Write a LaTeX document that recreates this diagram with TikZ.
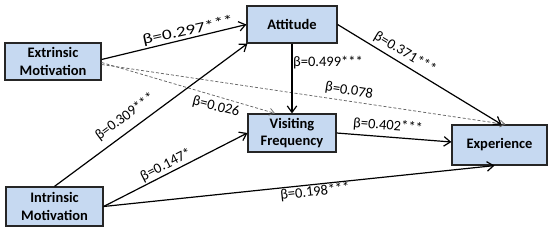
\documentclass[tikz,border=0pt]{standalone}
\usepackage{fontspec}
\setmainfont{Carlito}
\usetikzlibrary{arrows.meta}
\definecolor{boxblue}{HTML}{C6D9F1}
\begin{document}
\begin{tikzpicture}[x=1pt,y=-1pt,
  box/.style={draw=black!85, line width=1.2pt, fill=boxblue, align=center,
    font=\bfseries\fontsize{14.5}{17.5}\selectfont, inner sep=0pt},
  link/.style={line width=1.2pt, -{Straight Barb[length=6.5pt,width=9.5pt,line width=1.2pt]}},
  weak/.style={black!60, line width=0.75pt, dash pattern=on 3pt off 2pt,
    -{Straight Barb[length=5pt,width=7pt,line width=0.75pt]}},
  lbl/.style={font=\fontsize{14.5}{16}\selectfont, inner sep=0pt}]
\useasboundingbox (0,0) rectangle (550,233);
% boxes
\node[box, minimum width=96pt, minimum height=37pt] (ext) at (53,61.5) {Extrinsic\\Motivation};
\node[box, minimum width=97pt, minimum height=39pt] (int) at (54.5,206.5) {Intrinsic\\Motivation};
\node[box, minimum width=90pt, minimum height=37pt] (att) at (292,24.5) {Attitude};
\node[box, minimum width=88pt, minimum height=38pt] (vis) at (292,133) {Visiting\\Frequency};
\node[box, minimum width=95pt, minimum height=40pt] (exp) at (499.5,145) {Experience};
% dashed (non-significant) paths
\draw[weak] ([yshift=-1pt]ext.east) -- ([xshift=-17pt]vis.north);
\draw[weak] ([yshift=-3pt]ext.east) -- ([xshift=6pt]exp.north);
% solid paths
\draw[link] ([yshift=2pt]ext.east) -- (att.west);
\draw[link] (int.north) -- ([xshift=1pt]att.south west);
\draw[link] (int.east) -- (vis.west);
\draw[link] (int.east) -- ([xshift=-5pt]exp.south);
\draw[link] (att.south) -- (vis.north);
\draw[link] (att.east) -- ([xshift=2pt]exp.north);
\draw[link] (vis.east) -- ([yshift=3pt]exp.west);
% labels
\node[lbl, rotate=12.5, xscale=1.33] (l297) at (188,31) {β=0.297***};
\node[lbl, rotate=36.5] (l309) at (125,117) {β=0.309***};
\node[lbl, rotate=-14] (l026) at (216,107) {β=0.026};
\node[lbl, rotate=27] (l147) at (166,165) {β=0.147*};
\node[lbl, rotate=6.3] (l198) at (315,192) {β=0.198***};
\node[lbl] (l499) at (328,63) {β=0.499***};
\node[lbl, rotate=-31] (l371) at (405,53) {β=0.371***};
\node[lbl, rotate=-9] (l078) at (349,91) {β=0.078};
\node[lbl, rotate=-4.4] (l402) at (388,126) {β=0.402***};
\end{tikzpicture}
\end{document}
